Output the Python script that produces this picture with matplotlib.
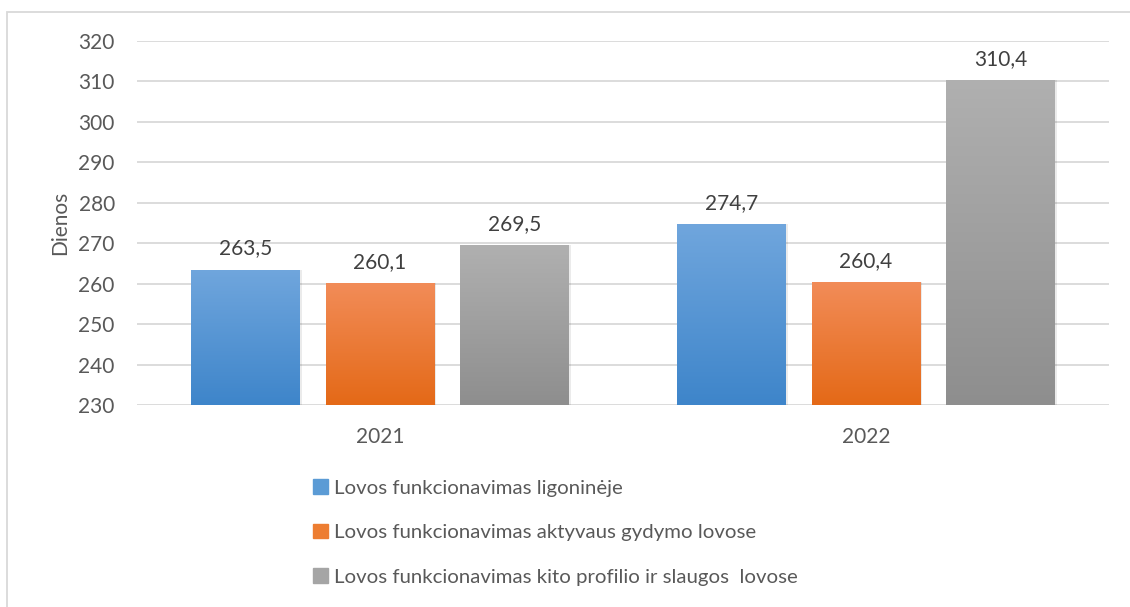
import numpy as np
import matplotlib
matplotlib.use("Agg")
import matplotlib.pyplot as plt
from matplotlib.patches import Rectangle
from matplotlib.colors import LinearSegmentedColormap

years = ["2021", "2022"]
series_names = [
    "Lovos funkcionavimas ligoninėje",
    "Lovos funkcionavimas aktyvaus gydymo lovose",
    "Lovos funkcionavimas kito profilio ir slaugos  lovose",
]
values_hospital = [263.5, 274.7]
values_active = [260.1, 260.4]
values_other = [269.5, 310.4]
y_ticks = [230, 240, 250, 260, 270, 280, 290, 300, 310, 320]
y_label = "Dienos"

all_values = [values_hospital, values_active, values_other]
grad_colors = [("#70A6DD", "#3E85CA"), ("#F28C58", "#E46917"), ("#B0B0B0", "#8E8E8E")]
legend_colors = ["#5B9BD5", "#ED7D31", "#A5A5A5"]

plt.rcParams['font.family'] = ['Lato', 'DejaVu Sans']
txt = "#595959"
FS = 15

fig = plt.figure(figsize=(11.30, 6.07), dpi=100)
W, H = 1130, 607
ax = fig.add_axes([137 / W, 1 - 405 / H, (1109 - 137) / W, (405 - 41) / H])

x = np.arange(len(years))
width = 0.224
step = 0.277
bottom = y_ticks[0]
for i, (vals, (ctop, cbot)) in enumerate(zip(all_values, grad_colors)):
    pos = x + (i - 1) * step
    heights = [v - bottom for v in vals]
    bars = ax.bar(pos, heights, width, bottom=bottom, color=legend_colors[i],
                  label=series_names[i], zorder=3)
    cmap = LinearSegmentedColormap.from_list("g%d" % i, [cbot, ctop])
    grad = np.linspace(0, 1, 256).reshape(-1, 1)
    for b, v in zip(bars, vals):
        x0, y0 = b.get_x(), b.get_y()
        im = ax.imshow(grad, cmap=cmap, aspect="auto", origin="lower",
                       extent=(x0, x0 + b.get_width(), y0, y0 + b.get_height()),
                       zorder=4)
        im.set_clip_path(b)
        ax.add_patch(Rectangle((x0 + 0.004, y0), b.get_width(), b.get_height(),
                               facecolor="#000000", alpha=0.08, zorder=2.5,
                               linewidth=0))
        ax.annotate(f"{v:.1f}".replace(".", ","), (b.get_x() + b.get_width() / 2, v),
                    xytext=(0, 8), textcoords="offset points", ha="center",
                    va="bottom", fontsize=FS, color="#404040", zorder=5)

ax.set_xlim(-0.5, 1.5)
ax.set_ylim(230, 320)
ax.set_yticks(y_ticks)
ax.set_yticklabels([str(t) for t in y_ticks])
ax.set_xticks(x)
ax.set_xticklabels(years)
ax.tick_params(axis="both", length=0, labelsize=FS, colors=txt)
ax.tick_params(axis="y", pad=16)
ax.tick_params(axis="x", pad=16)
ax.grid(axis="y", color="#D9D9D9", linewidth=1.3, zorder=0)
ax.set_axisbelow(True)
for s in ax.spines.values():
    s.set_visible(False)
ax.set_ylabel(y_label, fontsize=FS, color=txt, labelpad=6)

handles = [Rectangle((0, 0), 1, 1, color=c) for c in legend_colors]
leg = fig.legend(handles, series_names, loc="upper left",
                 bbox_to_anchor=(295 / W, 1 - 461 / H), frameon=False,
                 fontsize=14.7, labelcolor=txt, handlelength=0.7, handleheight=0.7,
                 handletextpad=0.3, labelspacing=1.33)

fig.patches.append(Rectangle((7 / W, -0.1), 1.2, 1 - 12 / H + 0.1,
                             transform=fig.transFigure, fill=False,
                             edgecolor="#D9D9D9", linewidth=1.3))

fig.savefig("out.png", dpi=100)
